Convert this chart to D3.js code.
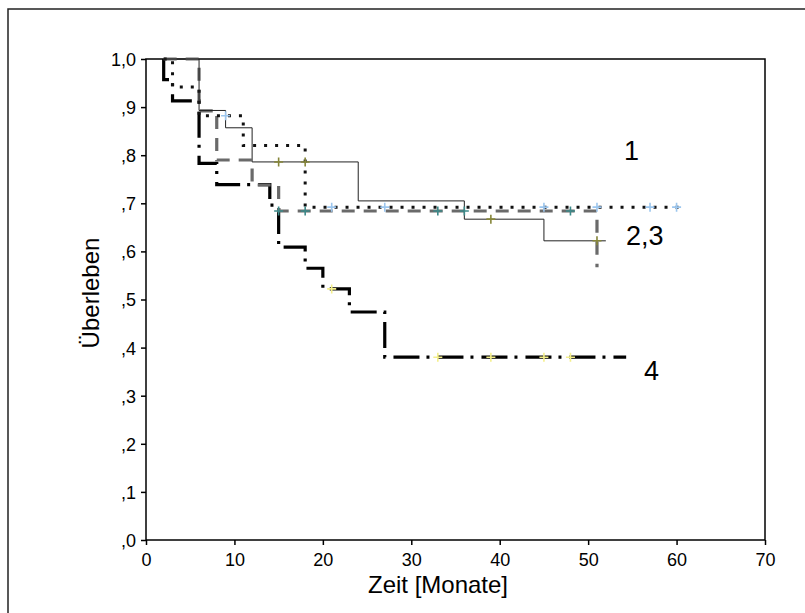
<!DOCTYPE html>
<html>
<head>
<meta charset="utf-8">
<script src="https://cdn.jsdelivr.net/npm/d3@7"></script>
<style>
  body { margin: 0; background: #fff; }
  svg { font-family: "Liberation Sans", Arial, sans-serif; }
</style>
</head>
<body>
<svg id="chart" width="805" height="613"></svg>
<script>
// Kaplan-Meier curves (time in months, survival 0..1)
var curve1Times = [2, 6, 9, 12, 24, 36, 45, 52];
var curve1Surv  = [1.0, 0.893, 0.857, 0.786, 0.705, 0.667, 0.622, 0.622];
var curve1Censor = [15, 18, 39, 51];

var curve2Times = [2, 3, 6, 11, 18, 60.5];
var curve2Surv  = [1.0, 0.942, 0.882, 0.82, 0.692, 0.692];
var curve2Censor = [9, 21, 27, 45, 51, 57, 60];

var curve3Times = [2, 6, 8, 12, 15, 51];
var curve3Surv  = [1.0, 0.892, 0.79, 0.738, 0.684, 0.567];
var curve3Censor = [15, 18, 33, 36, 48];

var curve4Times = [2, 2, 3, 6, 8, 14, 15, 18, 20, 23, 27, 54.3];
var curve4Surv  = [1.0, 0.957, 0.913, 0.783, 0.739, 0.696, 0.609, 0.565, 0.522, 0.474, 0.38, 0.38];
var curve4Censor = [21, 33, 39, 45, 48];

var xTicks = [0, 10, 20, 30, 40, 50, 60, 70];
var yTicks = [0, 0.1, 0.2, 0.3, 0.4, 0.5, 0.6, 0.7, 0.8, 0.9, 1.0];

var svg = d3.select("#chart");

// outer frame (runs off the right and bottom edge)
svg.append("rect")
    .attr("x", 8).attr("y", 9)
    .attr("width", 830).attr("height", 640)
    .attr("fill", "none").attr("stroke", "#222").attr("stroke-width", 1.5);

var x = d3.scaleLinear().domain([0, 70]).range([146, 765]);
var y = d3.scaleLinear().domain([0, 1]).range([540, 59]);

// plot box
svg.append("rect")
    .attr("x", x(0)).attr("y", y(1))
    .attr("width", x(70) - x(0)).attr("height", y(0) - y(1))
    .attr("fill", "none").attr("stroke", "#000").attr("stroke-width", 1.5);

var xAxis = svg.append("g")
    .attr("transform", "translate(0," + y(0) + ")")
    .call(d3.axisBottom(x).tickValues(xTicks).tickSize(5).tickPadding(8));

var yAxis = svg.append("g")
    .attr("transform", "translate(" + x(0) + ",0)")
    .call(d3.axisLeft(y).tickValues(yTicks).tickSize(5).tickPadding(5)
        .tickFormat(function(d) { return d === 1 ? "1,0" : "," + Math.round(d * 10); }));

[xAxis, yAxis].forEach(function(a) {
    a.select(".domain").remove();
    a.selectAll("line").attr("stroke", "#000").attr("stroke-width", 1.5);
    a.selectAll("text").attr("fill", "#000").style("font-size", "18px")
        .style("font-family", "'Liberation Sans', Arial, sans-serif");
});
yAxis.selectAll("text").attr("dy", "0.36em");

svg.append("text")
    .attr("x", 438).attr("y", 593)
    .attr("text-anchor", "middle")
    .style("font-size", "24px")
    .text("Zeit [Monate]");

svg.append("text")
    .attr("transform", "translate(99,293) rotate(-90)")
    .attr("text-anchor", "middle")
    .style("font-size", "24px")
    .text("Überleben");

// step lines
var step = d3.line()
    .x(function(d) { return x(d[0]); })
    .y(function(d) { return y(d[1]); })
    .curve(d3.curveStepAfter);

function pts(times, surv) {
    return times.map(function(t, i) { return [t, surv[i]]; });
}

function survAt(times, surv, t) {
    var s = surv[0];
    for (var i = 0; i < times.length; i++) {
        if (times[i] <= t) s = surv[i];
    }
    return s;
}

var curves = [
    { times: curve4Times, surv: curve4Surv, censor: curve4Censor, stroke: "#000", width: 3.2, dash: "26,7,3,8", mark: "#f4ef8c" },
    { times: curve3Times, surv: curve3Surv, censor: curve3Censor, stroke: "#6a6a6a", width: 3.2, dash: "13,9", mark: "#3d8a8a" },
    { times: curve2Times, surv: curve2Surv, censor: curve2Censor, stroke: "#111", width: 3, dash: "3,8", mark: "#9cc6ee" },
    { times: curve1Times, surv: curve1Surv, censor: curve1Censor, stroke: "#222", width: 1, dash: null, mark: "#86863a" }
];

curves.forEach(function(c) {
    svg.append("path")
        .datum(pts(c.times, c.surv))
        .attr("d", step)
        .attr("fill", "none")
        .attr("stroke", c.stroke)
        .attr("stroke-width", c.width)
        .attr("stroke-dasharray", c.dash);
});

curves.forEach(function(c) {
    var g = svg.append("g");
    c.censor.forEach(function(t) {
        var cx = x(t), cy = y(survAt(c.times, c.surv, t));
        g.append("path")
            .attr("d", "M" + (cx - 4.5) + "," + cy + "H" + (cx + 4.5) + "M" + cx + "," + (cy - 4.5) + "V" + (cy + 4.5))
            .attr("stroke", c.mark)
            .attr("stroke-width", 1.6);
    });
});

// curve labels
var labels = [["1", 624, 160], ["2,3", 626, 245], ["4", 644, 380]];
svg.selectAll(".lbl").data(labels).enter().append("text")
    .attr("class", "lbl")
    .attr("x", function(d) { return d[1]; })
    .attr("y", function(d) { return d[2]; })
    .style("font-size", "27px")
    .text(function(d) { return d[0]; });
</script>
</body>
</html>
